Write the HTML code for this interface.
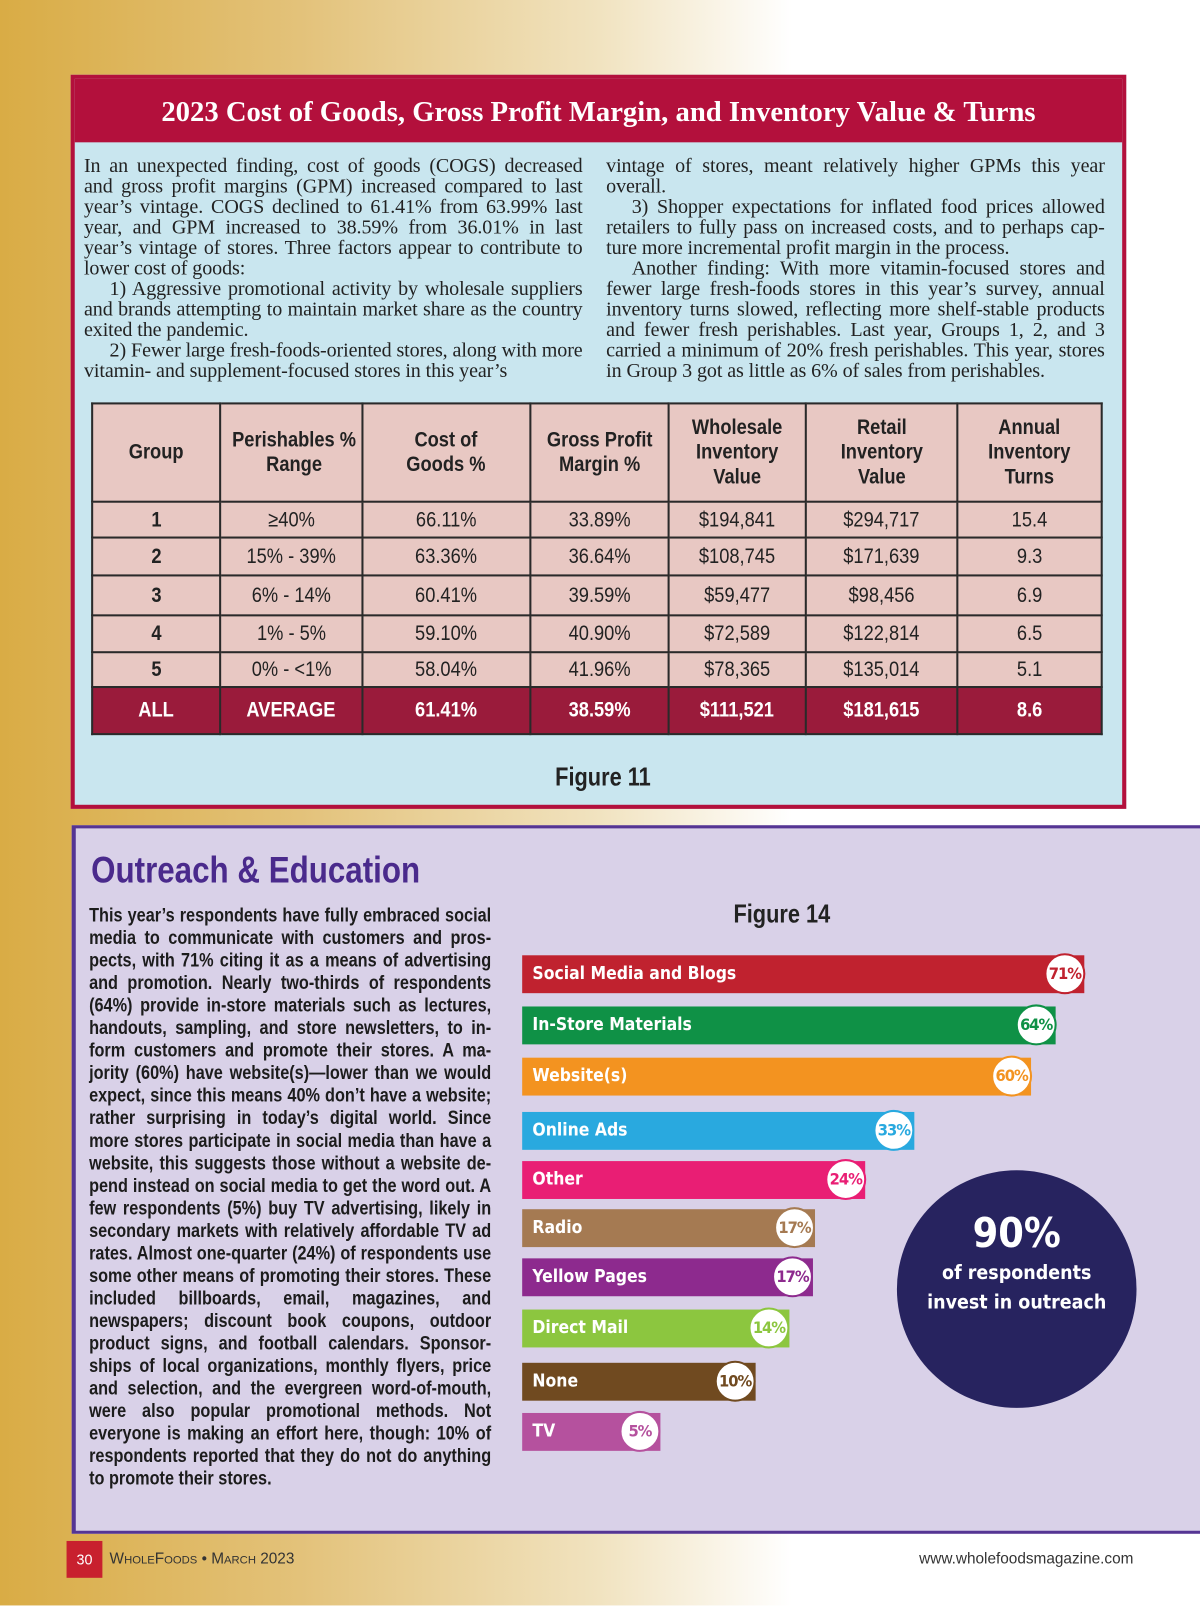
<!DOCTYPE html>
<html lang="en"><head><meta charset="utf-8"><style>
html,body{margin:0;padding:0;width:1200px;height:1606px;overflow:hidden;background:#fff}
#w{position:absolute;left:0;top:0;width:1172px;height:1568px;transform:scale(1.02389);transform-origin:0 0;
background:linear-gradient(90deg,#d9ac45 0%,#e3c27a 25%,#f1e3c0 50%,#fff 66%,#fff 100%);overflow:hidden;font-family:"Liberation Sans",sans-serif}
.abs{position:absolute}
.n{display:inline-block;transform:scaleX(0.85);transform-origin:50% 50%;white-space:nowrap}
#red{left:69px;top:73px;width:1023px;height:709px;border:4px solid #b3103c;background:#c9e6ef}
#title{left:0;top:0;width:1023px;height:62px;background:#b3103c;color:#fff;font:bold 28px "Liberation Serif",serif;text-align:center;line-height:66px}
.col{position:absolute;top:76px;width:487px;font:19.6px/20px "Liberation Serif",serif;color:#222;text-align:justify;letter-spacing:-0.1px;hyphens:auto}
.col p{margin:0}
table{position:absolute;left:16px;top:316px;border-collapse:collapse;table-layout:fixed;width:988px;font-family:"Liberation Sans",sans-serif;font-size:21px;color:#222}
td{border:2px solid #2a2a2a;background:#e8c8c3;text-align:center;padding:0;overflow:visible}
tr.h td{font-weight:bold;line-height:24px}
tr.all td{background:#9a1b3b;color:#fff;font-weight:bold}
#purple{left:70px;top:806px;width:1110px;height:686px;border:3px solid #553593;border-left-width:4px;background:#d9d1e8}
.bar{position:absolute;left:436px;height:37px;color:#fff;font:bold 17px "DejaVu Sans Condensed","DejaVu Sans",sans-serif;line-height:37px;padding-left:10px;box-sizing:border-box}
.circ{position:absolute;width:40px;height:40px;border-radius:50%;background:#fff;border:2px solid;box-sizing:border-box;font:bold 16px "DejaVu Sans Condensed",sans-serif;text-align:center;line-height:36px;letter-spacing:-1px}
</style></head><body><div id="w">
<div id="red" class="abs">
<div id="title" class="abs">2023 Cost of Goods, Gross Profit Margin, and Inventory Value &amp; Turns</div>
<div class="col" style="left:9px"><p>In an unexpected finding, cost of goods (COGS) decreased and gross profit margins (GPM) increased compared to last year’s vintage. COGS declined to 61.41% from 63.99% last year, and GPM increased to 38.59% from 36.01% in last year’s vintage of stores. Three factors appear to contribute to lower cost of goods:</p><p style="text-indent:25px">1) Aggressive promotional activity by wholesale suppli&shy;ers and brands attempting to maintain market share as the country exited the pandemic.</p><p style="text-indent:25px">2) Fewer large fresh-foods-oriented stores, along with more vitamin- and supplement-focused stores in this year’s</p></div>
<div class="col" style="left:519px"><p>vintage of stores, meant relatively higher GPMs this year overall.</p><p style="text-indent:25px">3) Shopper expectations for inflated food prices allowed retailers to fully pass on increased costs, and to perhaps cap&shy;ture more incremental profit margin in the process.</p><p style="text-indent:25px">Another finding: With more vitamin-focused stores and fewer large fresh-foods stores in this year’s survey, annual inventory turns slowed, reflecting more shelf-stable prod&shy;ucts and fewer fresh perishables. Last year, Groups 1, 2, and 3 carried a minimum of 20% fresh perishables. This year, stores in Group 3 got as little as 6% of sales from perishables.</p></div>
<table>
<colgroup><col style="width:125px"><col style="width:139px"><col style="width:164px"><col style="width:135px"><col style="width:134px"><col style="width:148px"><col style="width:141px"></colgroup>
<tr class="h" style="height:96px"><td><span class="n">Group</span></td><td><span class="n">Perishables %<br>Range</span></td><td><span class="n">Cost of<br>Goods %</span></td><td><span class="n">Gross Profit<br>Margin %</span></td><td><span class="n">Wholesale<br>Inventory<br>Value</span></td><td><span class="n">Retail<br>Inventory<br>Value</span></td><td><span class="n">Annual<br>Inventory<br>Turns</span></td></tr>
<tr style="height:35px"><td><b class="n">1</b></td><td><span class="n">≥40%</span></td><td><span class="n">66.11%</span></td><td><span class="n">33.89%</span></td><td><span class="n">$194,841</span></td><td><span class="n">$294,717</span></td><td><span class="n">15.4</span></td></tr>
<tr style="height:37px"><td><b class="n">2</b></td><td><span class="n">15% - 39%</span></td><td><span class="n">63.36%</span></td><td><span class="n">36.64%</span></td><td><span class="n">$108,745</span></td><td><span class="n">$171,639</span></td><td><span class="n">9.3</span></td></tr>
<tr style="height:39px"><td><b class="n">3</b></td><td><span class="n">6% - 14%</span></td><td><span class="n">60.41%</span></td><td><span class="n">39.59%</span></td><td><span class="n">$59,477</span></td><td><span class="n">$98,456</span></td><td><span class="n">6.9</span></td></tr>
<tr style="height:36px"><td><b class="n">4</b></td><td><span class="n">1% - 5%</span></td><td><span class="n">59.10%</span></td><td><span class="n">40.90%</span></td><td><span class="n">$72,589</span></td><td><span class="n">$122,814</span></td><td><span class="n">6.5</span></td></tr>
<tr style="height:34px"><td><b class="n">5</b></td><td><span class="n">0% - &lt;1%</span></td><td><span class="n">58.04%</span></td><td><span class="n">41.96%</span></td><td><span class="n">$78,365</span></td><td><span class="n">$135,014</span></td><td><span class="n">5.1</span></td></tr>
<tr class="all" style="height:46px"><td><span class="n">ALL</span></td><td><span class="n">AVERAGE</span></td><td><span class="n">61.41%</span></td><td><span class="n">38.59%</span></td><td><span class="n">$111,521</span></td><td><span class="n">$181,615</span></td><td><span class="n">8.6</span></td></tr>
</table>
<div class="abs" style="left:0;width:1031px;top:668px;text-align:center;font:bold 25px 'Liberation Sans',sans-serif;color:#222"><span class="n">Figure 11</span></div>
</div>
<div id="purple" class="abs">
<div class="abs" style="left:15px;top:20px;font:bold 36px 'Liberation Sans',sans-serif;color:#4a2a8c"><span class="n" style="transform-origin:0 50%">Outreach &amp; Education</span></div>
<div class="abs" style="left:13px;top:74px;width:462px;transform:scaleX(0.85);transform-origin:0 0;font:bold 18.7px/22px 'Liberation Sans',sans-serif;color:#1c1c1c;text-align:justify;hyphens:auto">This year’s respondents have fully embraced social media to communicate with customers and pros&shy;pects, with 71% citing it as a means of advertising and promotion. Nearly two-thirds of respondents (64%) provide in-store materials such as lectures, handouts, sampling, and store newsletters, to in&shy;form customers and promote their stores. A ma&shy;jority (60%) have website(s)—lower than we would expect, since this means 40% don’t have a website; rather surprising in today’s digital world. Since more stores participate in social media than have a website, this suggests those without a website de&shy;pend instead on social media to get the word out. A few respondents (5%) buy TV advertising, likely in secondary markets with relatively affordable TV ad rates. Almost one-quarter (24%) of respondents use some other means of promoting their stores. These included billboards, email, magazines, and newspapers; discount book coupons, outdoor product signs, and football calendars. Sponsor&shy;ships of local organizations, monthly flyers, price and selection, and the evergreen word-of-mouth, were also popular promotional methods. Not everyone is making an effort here, though: 10% of respondents reported that they do not do anything to promote their stores.</div>
<div class="abs" style="left:600px;top:70px;width:180px;text-align:center;font:bold 25px 'Liberation Sans',sans-serif;color:#222"><span class="n">Figure 14</span></div>
<div class="bar" style="top:124px;width:549px;background:#c0222f">Social Media and Blogs</div><div class="circ" style="left:946px;top:122px;border-color:#c0222f;color:#c0222f">71%</div>
<div class="bar" style="top:174px;width:521px;background:#0f9146">In-Store Materials</div><div class="circ" style="left:918px;top:172px;border-color:#0f9146;color:#0f9146">64%</div>
<div class="bar" style="top:224px;width:497px;background:#f39320">Website(s)</div><div class="circ" style="left:894px;top:222px;border-color:#f39320;color:#f39320">60%</div>
<div class="bar" style="top:277px;width:383px;background:#29a9df">Online Ads</div><div class="circ" style="left:779px;top:275px;border-color:#29a9df;color:#29a9df">33%</div>
<div class="bar" style="top:325px;width:335px;background:#e91e74">Other</div><div class="circ" style="left:732px;top:323px;border-color:#e91e74;color:#e91e74">24%</div>
<div class="bar" style="top:372px;width:286px;background:#a57a52">Radio</div><div class="circ" style="left:682px;top:370px;border-color:#a57a52;color:#a57a52">17%</div>
<div class="bar" style="top:420px;width:284px;background:#8d2a8e">Yellow Pages</div><div class="circ" style="left:680px;top:418px;border-color:#8d2a8e;color:#8d2a8e">17%</div>
<div class="bar" style="top:470px;width:261px;background:#8cc63f">Direct Mail</div><div class="circ" style="left:657px;top:468px;border-color:#8cc63f;color:#8cc63f">14%</div>
<div class="bar" style="top:522px;width:228px;background:#704a20">None</div><div class="circ" style="left:624px;top:520px;border-color:#704a20;color:#704a20">10%</div>
<div class="bar" style="top:571px;width:135px;background:#b5519e">TV</div><div class="circ" style="left:531px;top:569px;border-color:#b5519e;color:#b5519e">5%</div>
<div class="abs" style="left:802px;top:334px;width:234px;height:232px;border-radius:50%;background:#27235f;color:#fff;text-align:center;font-family:'DejaVu Sans Condensed','DejaVu Sans',sans-serif;font-weight:bold">
<div style="font-size:40px;margin-top:38px;line-height:48px">90%</div><div style="font-size:19px;line-height:29px">of respondents<br>invest in outreach</div></div>
</div>
<div class="abs" style="left:65px;top:1505px;width:35px;height:36px;background:#c8202e;color:#fff;font:14px/36px 'Liberation Sans',sans-serif;text-align:center">30</div>
<div class="abs" style="left:107px;top:1514px;font:15px 'Liberation Sans',sans-serif;color:#333">W<span style="font-size:11px">HOLE</span>F<span style="font-size:11px">OODS</span> • M<span style="font-size:11px">ARCH</span> 2023</div>
<div class="abs" style="left:880px;top:1514px;width:227px;text-align:right;font:15px 'Liberation Sans',sans-serif;color:#333">www.wholefoodsmagazine.com</div>
</div></body></html>
